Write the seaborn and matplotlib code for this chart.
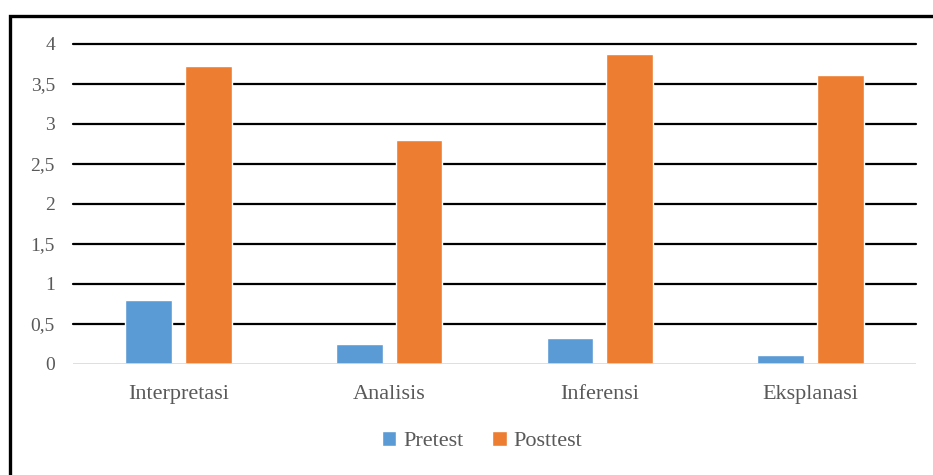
import matplotlib
matplotlib.use("Agg")
import matplotlib.pyplot as plt
import seaborn as sns
import pandas as pd
from matplotlib.patches import Rectangle

categories = ["Interpretasi", "Analisis", "Inferensi", "Eksplanasi"]
series_names = ["Pretest", "Posttest"]
pretest = [0.80, 0.25, 0.32, 0.11]
posttest = [3.73, 2.80, 3.88, 3.61]
yticks = [0, 0.5, 1, 1.5, 2, 2.5, 3, 3.5, 4]
ytick_labels = ["0", "0,5", "1", "1,5", "2", "2,5", "3", "3,5", "4"]
colors = ["#5B9BD5", "#ED7D31"]

df = pd.DataFrame({
    "Kategori": categories * 2,
    "Seri": [series_names[0]] * 4 + [series_names[1]] * 4,
    "Nilai": pretest + posttest,
})

sns.set_theme(style="white")
plt.rcParams["font.family"] = ["Liberation Serif", "DejaVu Serif"]

fig = plt.figure(figsize=(9.33, 4.75), dpi=100)
ax = fig.add_axes([73/933, 1-364/475, (916-73)/933, (364-44)/475])

sns.barplot(data=df, x="Kategori", y="Nilai", hue="Seri", palette=colors,
            width=0.569, gap=0.22, ax=ax, saturation=1, legend=True)

ax.set_ylim(0, 4)
ax.set_xlim(-0.5, 3.5)
ax.set_yticks(yticks)
ax.set_yticklabels(ytick_labels)
ax.set_xlabel("")
ax.set_ylabel("")
for s in ax.spines.values():
    s.set_visible(False)
ax.set_axisbelow(True)
for y in yticks[1:]:
    ax.axhline(y, color="black", lw=1.6, zorder=0, clip_on=False)
ax.axhline(0, color="#d9d9d9", lw=1.2, zorder=3)
ax.tick_params(axis="y", length=0, pad=13, labelsize=14, labelcolor="#595959")
ax.tick_params(axis="x", length=0, pad=15, labelsize=16, labelcolor="#595959")

handles, labels = ax.get_legend_handles_labels()
ax.legend(handles, labels, loc="center", bbox_to_anchor=(482/933, 1-441/475),
          bbox_transform=fig.transFigure, ncol=2, frameon=False,
          handlelength=0.65, handleheight=0.65, handletextpad=0.3,
          columnspacing=1.3, prop={"size": 16}, labelcolor="#595959")

fig.add_artist(Rectangle((9.5/933, -0.2), 1.5, 1.2 - 15.5/475, fill=False,
                         edgecolor="black", lw=2.4, transform=fig.transFigure,
                         clip_on=False))

fig.savefig("out.png", dpi=100)
